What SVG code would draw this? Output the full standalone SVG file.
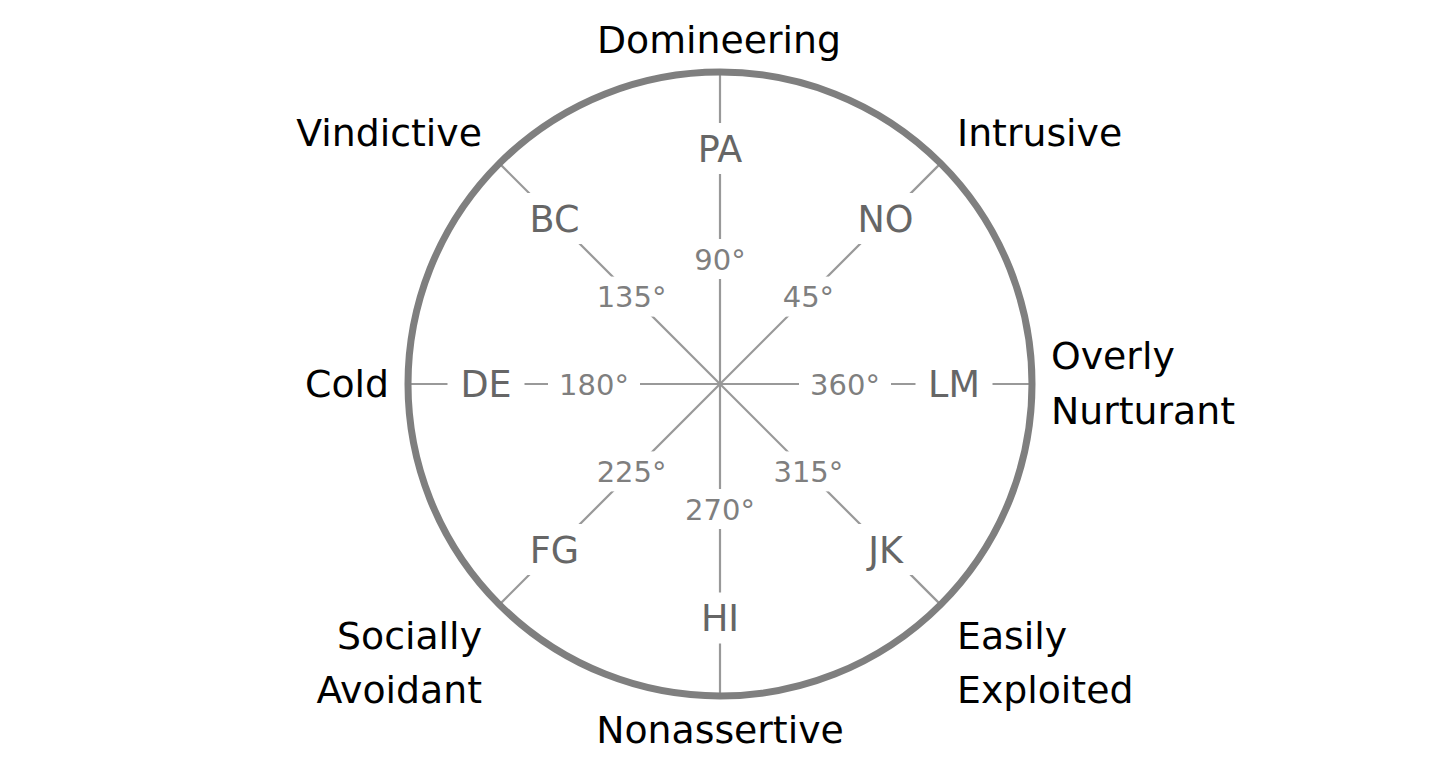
<svg xmlns="http://www.w3.org/2000/svg" width="1440" height="768" viewBox="0 0 1440 768">
<style>
.ring{fill:none;stroke:#7f7f7f;stroke-width:7}
.spoke{stroke:#999999;stroke-width:2.2;fill:none}
.bg{fill:#ffffff}
.oct{font-family:"DejaVu Sans",sans-serif;font-size:36.5px;fill:#666666;text-anchor:middle}
.deg{font-family:"DejaVu Sans",sans-serif;font-size:29px;fill:#7f7f7f;text-anchor:middle}
.out{font-family:"DejaVu Sans",sans-serif;font-size:37.8px;fill:#000000}
</style>
<rect width="1440" height="768" fill="#ffffff"/>
<g id="connectors">
<line class="spoke" x1="720" y1="384" x2="1032" y2="384"/>
<line class="spoke" x1="720" y1="384" x2="940.6" y2="163.4"/>
<line class="spoke" x1="720" y1="384" x2="720" y2="72"/>
<line class="spoke" x1="720" y1="384" x2="499.4" y2="163.4"/>
<line class="spoke" x1="720" y1="384" x2="408" y2="384"/>
<line class="spoke" x1="720" y1="384" x2="499.4" y2="604.6"/>
<line class="spoke" x1="720" y1="384" x2="720" y2="696"/>
<line class="spoke" x1="720" y1="384" x2="940.6" y2="604.6"/>
</g>
<g id="ring"><circle class="ring" cx="720" cy="384" r="312"/></g>
<g id="deg-360"><rect class="bg" x="799" y="364" width="92" height="40"/><text class="deg" x="845" y="394.5">360°</text></g>
<g id="deg-45"><rect class="bg" x="771" y="276.6" width="74" height="40"/><text class="deg" x="808.4" y="307">45°</text></g>
<g id="deg-90"><rect class="bg" x="683" y="239" width="74" height="40"/><text class="deg" x="720" y="269.5">90°</text></g>
<g id="deg-135"><rect class="bg" x="585.6" y="276.6" width="92" height="40"/><text class="deg" x="631.6" y="307">135°</text></g>
<g id="deg-180"><rect class="bg" x="548" y="364" width="92" height="40"/><text class="deg" x="594" y="394.5">180°</text></g>
<g id="deg-225"><rect class="bg" x="585.6" y="451.4" width="92" height="40"/><text class="deg" x="631.6" y="481.9">225°</text></g>
<g id="deg-270"><rect class="bg" x="674" y="489" width="92" height="40"/><text class="deg" x="720" y="519.5">270°</text></g>
<g id="deg-315"><rect class="bg" x="762.4" y="451.4" width="92" height="40"/><text class="deg" x="808.4" y="481.9">315°</text></g>
<g id="oct-LM"><rect class="bg" x="915.5" y="358.5" width="77" height="51"/><text class="oct" x="954" y="397.3">LM</text></g>
<g id="oct-NO"><rect class="bg" x="845" y="193" width="81" height="51"/><text class="oct" x="885.5" y="231.8">NO</text></g>
<g id="oct-PA"><rect class="bg" x="684" y="123" width="72" height="51"/><text class="oct" x="720" y="161.8">PA</text></g>
<g id="oct-BC"><rect class="bg" x="516.5" y="193" width="76" height="51"/><text class="oct" x="554.5" y="231.8">BC</text></g>
<g id="oct-DE"><rect class="bg" x="447.5" y="358.5" width="77" height="51"/><text class="oct" x="486" y="397.3">DE</text></g>
<g id="oct-FG"><rect class="bg" x="517" y="524" width="75" height="51"/><text class="oct" x="554.5" y="562.8">FG</text></g>
<g id="oct-HI"><rect class="bg" x="688" y="592.5" width="64" height="51"/><text class="oct" x="720" y="631.3">HI</text></g>
<g id="oct-JK"><rect class="bg" x="855.5" y="524" width="60" height="51"/><text class="oct" x="885.5" y="562.8">JK</text></g>
<g id="label-domineering"><text class="out" x="719" y="53" text-anchor="middle">Domineering</text></g>
<g id="label-intrusive"><text class="out" x="957" y="146">Intrusive</text></g>
<g id="label-vindictive"><text class="out" x="482" y="146" text-anchor="end">Vindictive</text></g>
<g id="label-cold"><text class="out" x="389" y="397" text-anchor="end">Cold</text></g>
<g id="label-overly-nurturant"><text class="out" x="1051" y="369">Overly</text><text class="out" x="1051" y="424">Nurturant</text></g>
<g id="label-socially-avoidant"><text class="out" x="482" y="649" text-anchor="end">Socially</text><text class="out" x="482" y="703" text-anchor="end">Avoidant</text></g>
<g id="label-easily-exploited"><text class="out" x="957" y="649">Easily</text><text class="out" x="957" y="703">Exploited</text></g>
<g id="label-nonassertive"><text class="out" x="720" y="743" text-anchor="middle">Nonassertive</text></g>
</svg>
